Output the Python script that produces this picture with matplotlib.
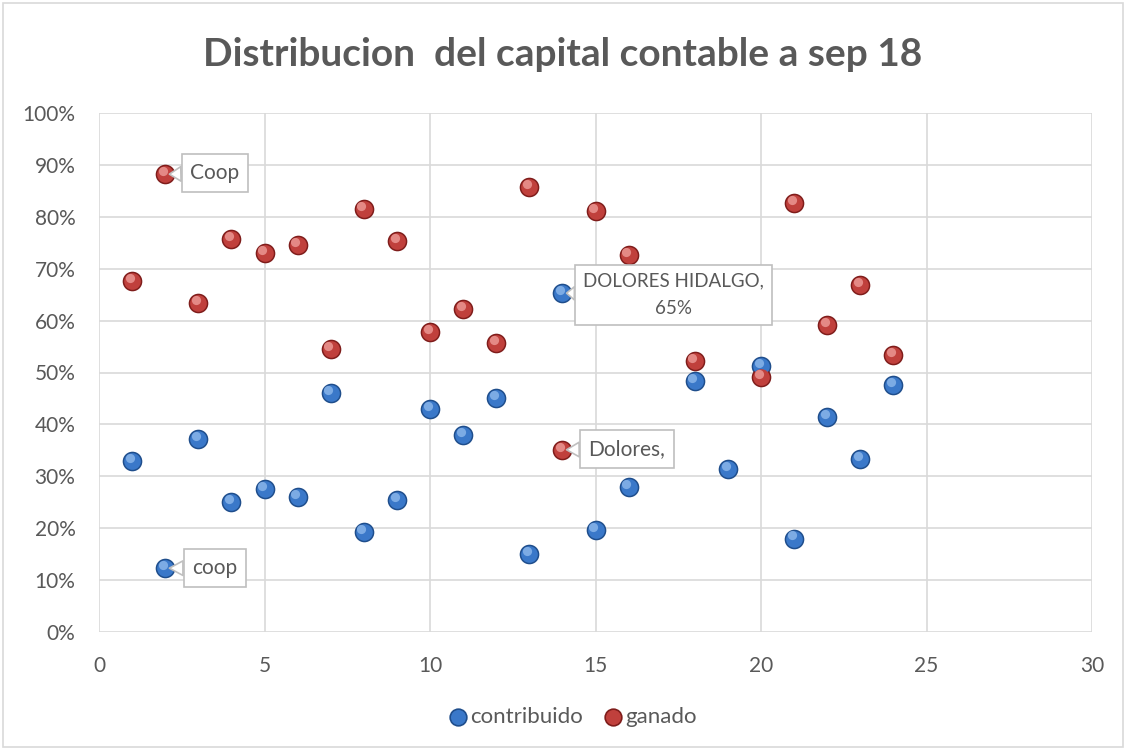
import matplotlib
matplotlib.use('Agg')
import matplotlib.pyplot as plt
import matplotlib.ticker as ticker
from matplotlib.patches import Rectangle
import numpy as np

plt.rcParams['font.family'] = ['Lato', 'DejaVu Sans']

# ── data ──
x_contrib = [1, 2, 3, 4, 5, 6, 7, 8, 9, 10, 11, 12, 13, 14, 15, 16, 18, 19, 20, 21, 22, 23, 24]
contribuido = [0.329, 0.123, 0.372, 0.250, 0.275, 0.260, 0.460, 0.193, 0.254, 0.430, 0.380, 0.451,
               0.150, 0.653, 0.197, 0.279, 0.484, 0.314, 0.513, 0.180, 0.414, 0.333, 0.476]
x_ganado = [1, 2, 3, 4, 5, 6, 7, 8, 9, 10, 11, 12, 13, 14, 15, 16, 18, 19, 20, 21, 22, 23, 24]
ganado = [0.676, 0.882, 0.634, 0.757, 0.730, 0.746, 0.545, 0.815, 0.753, 0.578, 0.622, 0.557,
          0.857, 0.351, 0.811, 0.726, 0.522, 0.686, 0.491, 0.827, 0.592, 0.669, 0.534]

BLUE = ('#1F4E8C', '#3A78C9', '#8DB8EC')   # dark edge, body, highlight
RED = ('#7F1D1B', '#C0403C', '#EE9C98')
GRAY = '#595959'

fig = plt.figure(figsize=(11.26, 7.5), dpi=100)
ax = fig.add_axes([99 / 1126, 1 - 632 / 750, (1092 - 99) / 1126, (632 - 113) / 750])


def spheres(ax, xs, ys, cols, s=200, z=3):
    # fake Excel 3D ball: dark rim, body, offset highlight
    ax.scatter(xs, ys, s=s, color=cols[0], zorder=z, linewidths=0)
    ax.scatter(xs, ys, s=s * 0.72, color=cols[1], zorder=z + 0.1, linewidths=0)
    ax.scatter(np.array(xs) - 0.07, np.array(ys) + 0.006, s=s * 0.22, color=cols[2],
               zorder=z + 0.2, linewidths=0, alpha=0.8)


spheres(ax, x_contrib, contribuido, BLUE)
spheres(ax, x_ganado, ganado, RED)

ax.set_xlim(0, 30)
ax.set_ylim(0, 1.0)
ax.set_xticks(range(0, 31, 5))
ax.set_yticks(np.arange(0, 1.01, 0.1))
ax.yaxis.set_major_formatter(ticker.FuncFormatter(lambda v, _: f'{v * 100:.0f}%'))
ax.grid(True, color='#D9D9D9', linewidth=1.2, zorder=0)
ax.set_axisbelow(True)
for sp in ax.spines.values():
    sp.set_visible(False)
ax.tick_params(length=0, labelsize=15, colors=GRAY)
ax.tick_params(axis='y', pad=17)
ax.tick_params(axis='x', pad=17)

# ── callout labels ──
arrow = dict(arrowstyle='wedge,tail_width=0.7,shrink_factor=0.5', fc='white', ec='#BFBFBF',
             lw=1.2, shrinkA=0, shrinkB=3)
callouts = [
    ('Coop', 2, 0.882, 3.50, 0.884, 15, 0.42),
    ('coop', 2, 0.123, 3.50, 0.123, 15, 0.42),
    ('DOLORES HIDALGO,\n65%', 14, 0.653, 17.35, 0.650, 13.5, 0.42),
    ('Dolores,', 14, 0.351, 15.95, 0.353, 15, 0.42),
]
for txt, px, py, tx, ty, fs, pad in callouts:
    box = dict(boxstyle=f'square,pad={pad}', fc='white', ec='#BFBFBF', lw=1.2)
    ax.annotate(txt, xy=(px, py), xytext=(tx, ty), ha='center', va='center',
                fontsize=fs, color=GRAY, bbox=box, arrowprops=arrow, zorder=10,
                linespacing=1.75)

fig.text(0.5, 1 - 55 / 750, 'Distribucion  del capital contable a sep 18', ha='center',
         va='center', fontsize=28, fontweight='bold', color=GRAY)

# ── legend ──
lx = [458 / 1126, 613 / 1126]
ly = 1 - 717 / 750
for cx, cols, name in zip(lx, [BLUE, RED], ['contribuido', 'ganado']):
    fig.add_artist(plt.Line2D([cx], [ly], marker='o', markersize=12, color=cols[1],
                              markeredgecolor=cols[0], markeredgewidth=1.2,
                              transform=fig.transFigure))
    fig.text(cx + 12 / 1126, ly, name, ha='left', va='center', fontsize=16, color=GRAY)

fig.add_artist(Rectangle((3 / 1126, 3 / 750), 1120 / 1126, 744 / 750, fill=False,
                         ec='#D9D9D9', lw=1.2, transform=fig.transFigure))

fig.savefig('out.png', dpi=100, facecolor='white')
